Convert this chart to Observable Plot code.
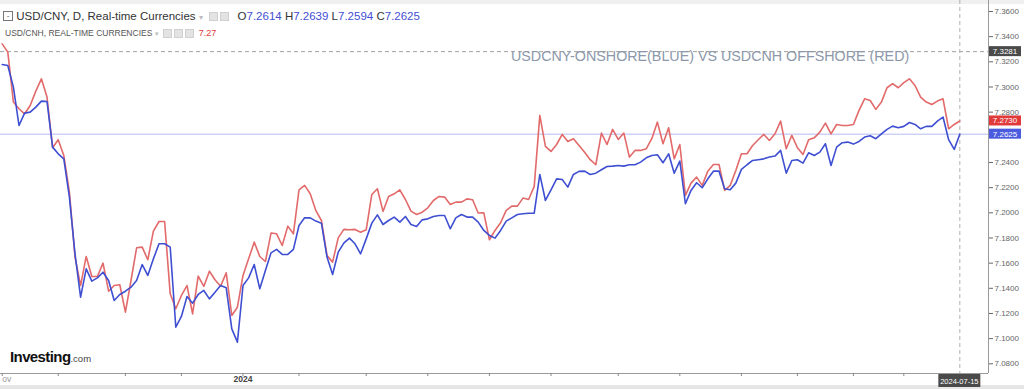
<!DOCTYPE html>
<html><head><meta charset="utf-8">
<script src="https://cdn.jsdelivr.net/npm/d3@7"></script>
<script src="https://cdn.jsdelivr.net/npm/@observablehq/plot@0.6"></script>
<style>
body{margin:0;background:#fff;font-family:"Liberation Sans",Arial,sans-serif;}
#wrap{position:relative;width:1024px;height:389px;overflow:hidden;background:#fff;}
#wrap svg{position:absolute;left:0;top:0;}
.ov{position:absolute;white-space:nowrap;line-height:1;}
.box{display:inline-block;width:7px;height:7px;background:#e3e3e3;border:1px solid #d0d0d0;margin-right:2px;vertical-align:middle;}
</style></head><body><div id="wrap"></div>
<script>
// USD/CNY onshore (blue), daily closes, one per trading day
const cny = [
7.3179,7.3171,7.2999,7.2694,7.2792,7.2800,7.2840,7.2888,7.2885,7.2522,
7.2469,7.2429,7.2125,7.1674,7.1330,7.1555,7.1457,7.1483,7.1528,7.1462,
7.1303,7.1351,7.1377,7.1409,7.1462,7.1589,7.1502,7.1634,7.1754,7.1754,
7.1727,7.1091,7.1176,7.1335,7.1282,7.1351,7.1383,7.1316,7.1369,7.1422,
7.1404,7.1078,7.0972,7.1422,7.1483,7.1589,7.1396,7.1542,7.1682,7.1709,
7.1669,7.1669,7.1709,7.1899,7.1960,7.1960,7.1934,7.1918,
7.1648,7.1510,7.1687,7.1759,7.1799,7.1754,7.1674,7.1793,7.1918,7.1984,
7.1907,7.1939,7.1966,7.1926,7.1971,7.1907,7.1891,7.1944,7.1952,7.1971,
7.1979,7.1979,7.1873,7.1960,7.1987,7.1966,7.1966,7.1926,7.1860,7.1820,
7.1799,7.1860,7.1934,7.1960,7.1987,7.1992,7.1997,7.1997,7.2305,7.2098,
7.2183,7.2270,7.2265,7.2204,7.2305,7.2329,7.2331,7.2305,7.2315,7.2342,
7.2368,7.2371,7.2376,7.2371,7.2382,7.2382,7.2403,
7.2437,7.2456,7.2461,7.2398,7.2469,7.2315,7.2411,7.2072,7.2178,7.2239,
7.2199,7.2270,7.2331,7.2331,7.2191,7.2183,7.2236,7.2345,7.2382,7.2416,
7.2422,7.2429,7.2443,7.2451,7.2496,7.2315,7.2416,7.2422,7.2395,7.2477,
7.2456,7.2482,7.2549,7.2376,7.2522,7.2557,7.2562,7.2546,7.2567,7.2602,
7.2612,7.2589,7.2628,7.2663,7.2689,7.2676,7.2687,7.2718,7.2702,7.2668,
7.2687,7.2687,7.2729,7.2761,7.2581,7.2504,7.2625
];
// USD/CNH offshore (red)
const cnh = [
7.3343,7.3277,7.2880,7.2827,7.2787,7.2853,7.2967,7.3065,7.2920,7.2517,
7.2581,7.2456,7.2164,7.1648,7.1422,7.1653,7.1494,7.1494,7.1600,7.1377,
7.1422,7.1428,7.1210,7.1462,7.1722,7.1727,7.1627,7.1854,7.1931,7.1931,
7.1356,7.1237,7.1343,7.1422,7.1197,7.1497,7.1415,7.1536,7.1468,7.1417,
7.1523,7.1184,7.1250,7.1502,7.1634,7.1767,7.1653,7.1613,7.1839,7.1833,
7.1740,7.1894,7.1833,7.2183,7.2218,7.2151,7.2019,7.1939,
7.1661,7.1608,7.1801,7.1868,7.1865,7.1868,7.1846,7.1865,7.2146,7.2191,
7.2011,7.2130,7.2151,7.2183,7.2106,7.2013,7.1987,7.2005,7.2040,7.2098,
7.2130,7.2125,7.2066,7.2085,7.2085,7.2111,7.2104,7.1998,7.2000,7.1786,
7.1860,7.1921,7.2019,7.2053,7.2053,7.2117,7.2106,7.2210,7.2774,7.2528,
7.2488,7.2543,7.2623,7.2567,7.2589,7.2535,7.2482,7.2422,7.2382,7.2634,
7.2543,7.2663,7.2583,7.2634,7.2443,7.2496,7.2496,
7.2509,7.2589,7.2721,7.2549,7.2676,7.2429,7.2543,7.2138,7.2236,7.2284,
7.2218,7.2331,7.2384,7.2384,7.2178,7.2218,7.2337,7.2469,7.2469,7.2535,
7.2581,7.2623,7.2575,7.2628,7.2729,7.2509,7.2615,7.2517,7.2464,7.2581,
7.2596,7.2641,7.2713,7.2628,7.2702,7.2694,7.2694,7.2702,7.2814,7.2906,
7.2893,7.2822,7.2880,7.2994,7.3026,7.2994,7.3034,7.3065,7.3012,7.2920,
7.2880,7.2861,7.2888,7.2906,7.2668,7.2702,7.2730
];
const yTicks = [7.08,7.10,7.12,7.14,7.16,7.18,7.20,7.22,7.24,7.26,7.28,7.30,7.32,7.34,7.36];
const yHiddenLabel = 7.26; // covered by the last-price badge
const xTickIdx = [0,10,22,32,43,53,65,76,87,98,110,121,132,142,152,161];
const xLabelIdx = [0,43];
const xLabelText = ["ov","2024"];
const xLabelAnchor = ["start","middle"];
const lastDate = "2024-07-15";
const refLevel = 7.3281;
const cnyLast = 7.2625, cnhLast = 7.2730;
const ohlcNames = ["O","H","L","C"];
const ohlcValues = [7.2614,7.2639,7.2594,7.2625];
const cnhHeaderValue = "7.27";
const noteText = "USDCNY-ONSHORE(BLUE) VS USDCNH OFFSHORE (RED)";

const BLUE = "#3f4fd2", RED = "#e26a6a";
const rows = cny.map((v,i)=>({i, cny:v, cnh:cnh[i]}));
const lastIdx = cny.length - 1;
const xLabels = xLabelIdx.map((i,k)=>({i, t:xLabelText[k], a:xLabelAnchor[k]}));

const chart = Plot.plot({
  width:1024, height:389,
  marginLeft:0, marginRight:36, marginTop:0, marginBottom:16,
  style:{fontFamily:"Liberation Sans, Arial, sans-serif", background:"transparent"},
  x:{domain:[-0.304,176.12], axis:null, label:null},
  y:{domain:[7.07229,7.36874], axis:null, label:null},
  marks:[
    Plot.ruleY([refLevel],{stroke:"#a0a0a0", strokeDasharray:"4,3", strokeWidth:1}),
    Plot.ruleY([cnyLast],{stroke:"#b4bcf2", strokeWidth:1}),
    Plot.ruleX([lastIdx],{stroke:"#b0b0b0", strokeDasharray:"4,3", strokeWidth:1}),
    Plot.line(rows,{x:"i", y:"cnh", stroke:RED, strokeWidth:1.6}),
    Plot.line(rows,{x:"i", y:"cny", stroke:BLUE, strokeWidth:1.6}),
    Plot.ruleX([176.12],{stroke:"#9a9a9a"}),
    Plot.ruleY([7.07229],{stroke:"#9a9a9a"}),
    Plot.axisY({anchor:"right", label:null, ticks:yTicks, tickFormat:d=>Math.abs(d-yHiddenLabel)<1e-9?"":d.toFixed(4), tickSize:4, tickPadding:2, fontSize:8, color:"#666", tickStroke:"#888"}),
    Plot.axisX({label:null, ticks:xTickIdx, tickFormat:()=>"", tickSize:3, color:"#888"}),
    Plot.text(xLabels.filter(d=>d.a==="start"),{x:"i", text:"t", frameAnchor:"bottom", dy:8, textAnchor:"start", fontSize:8.5, fill:"#999"}),
    Plot.text(xLabels.filter(d=>d.a==="middle"),{x:"i", text:"t", frameAnchor:"bottom", dy:8, fontSize:8.5, fill:"#444", fontWeight:"bold"})
  ]
});

const wrap = document.getElementById("wrap");
wrap.appendChild(chart);
const ys = chart.scale("y"), xs = chart.scale("x");
const svg = d3.select(chart);
svg.insert("rect",":first-child").attr("x",0).attr("y",385).attr("width",1024).attr("height",4).attr("fill","#e6e6e6");
svg.insert("rect",":first-child").attr("x",0).attr("y",0).attr("width",1024).attr("height",4).attr("fill","#f0f0f0");
function badge(v, fill){
  const y = ys.apply(v);
  const g = svg.append("g");
  g.append("rect").attr("x",989).attr("y",y-5).attr("width",32).attr("height",10).attr("fill",fill);
  g.append("text").attr("x",1005).attr("y",y+3).attr("text-anchor","middle").attr("fill","#fff").attr("font-size",8).text(v.toFixed(4));
}
badge(refLevel,"#4a4a4a");
badge(cnhLast,"#e03a3a");
badge(cnyLast,"#4b5be0");
{
  const x = xs.apply(lastIdx);
  const g = svg.append("g");
  g.append("rect").attr("x",x-21).attr("y",374).attr("width",42).attr("height",13).attr("fill","#4a4a4a");
  g.append("text").attr("x",x).attr("y",383.5).attr("text-anchor","middle").attr("fill","#fff").attr("font-size",7.5).text(lastDate);
}

function ov(html, left, top, style){
  const d = document.createElement("div");
  d.className = "ov"; d.innerHTML = html;
  d.style.left = left+"px"; d.style.top = top+"px";
  Object.assign(d.style, style||{});
  wrap.appendChild(d);
}
ov(`<span style="display:inline-block;width:8px;height:8px;border:1px solid #777;vertical-align:middle;position:relative;top:-1px;font-size:8px;line-height:7px;text-align:center;color:#555">-</span>
 <span style="color:#333">USD/CNY, D, Real-time Currencies</span> <span style="color:#bbb;font-size:8px">▾</span>
 &nbsp;<span class="box"></span><span class="box"></span>&nbsp; ` +
 ohlcNames.map((n,k)=>`<span style="color:#333">${n}</span><span style="color:#3f4fd2">${ohlcValues[k].toFixed(4)}</span>`).join(" "),
 3, 11, {fontSize:"11.5px"});
ov(`<span style="color:#555">USD/CNH, REAL-TIME CURRENCIES</span> <span style="color:#bbb;font-size:7px">▾</span>
 &nbsp;<span class="box"></span><span class="box"></span><span class="box"></span>&nbsp;<span style="color:#e03a3a;font-size:9px">${cnhHeaderValue}</span>`,
 5, 29, {fontSize:"8.5px"});
ov(noteText, 511, 49, {fontSize:"14.3px", color:"#8c98aa"});
ov(`<span style="font-weight:bold;font-size:15px;color:#111;letter-spacing:-0.6px">Investing</span><span style="font-size:9.5px;color:#444">.com</span>`, 10, 349, {});
</script></body></html>
